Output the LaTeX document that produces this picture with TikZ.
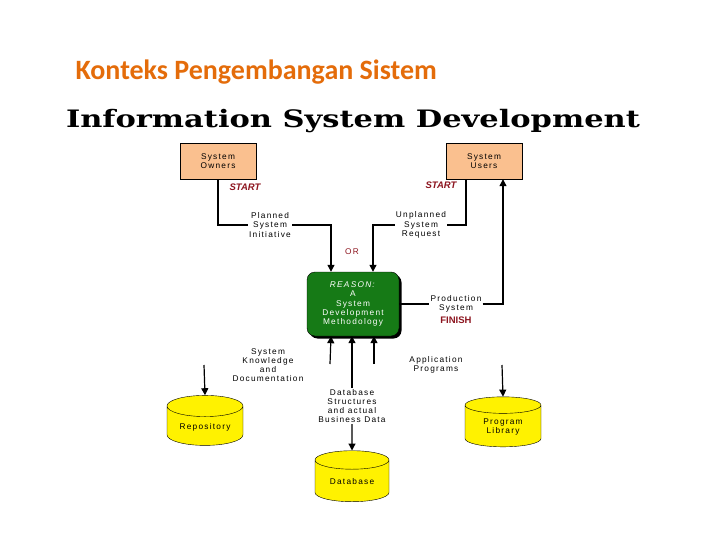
\documentclass[tikz,border=0pt]{standalone}
\usepackage{fontspec}
\usepackage{graphicx}
\setmainfont{Liberation Sans}
\newfontfamily\diafont[LetterSpace=15]{Liberation Sans}
\newfontfamily\titlefont{Carlito}
\newfontfamily\headfont{DejaVu Serif}
\usetikzlibrary{arrows.meta,shapes.geometric,shadows,positioning}

\definecolor{boxorange}{RGB}{250,192,143}
\definecolor{titleorange}{RGB}{228,108,10}
\definecolor{reasongreen}{RGB}{22,122,22}
\definecolor{startred}{RGB}{140,20,30}

\tikzset{
    small/.style = {font = {\diafont\fontsize{8.3}{9.2}\selectfont}, align = center, inner sep = 1pt},
    actor/.style = {small, draw, fill = boxorange, minimum width = 76pt, minimum height = 36pt},
    store/.style = {small, cylinder, shape border rotate = 90, aspect = 0.4, draw, fill = yellow,
                    minimum width = 76pt, minimum height = 50pt},
    mark red/.style = {font = {\fontsize{9.5}{10}\selectfont\bfseries\itshape}, text = startred},
    flow/.style = {line width = 1.2pt, -{Triangle[width = 7pt, length = 7pt]}},
}

\begin{document}
\begin{tikzpicture}[x=1pt, y=-1pt]
    \useasboundingbox (0,0) rectangle (720,540);

    \node[font = {\titlefont\bfseries\fontsize{28}{30}\selectfont}, text = titleorange, anchor = west] (title) at (72,72) {Konteks Pengembangan Sistem};
    \node[font = {\headfont\bfseries\fontsize{24}{28}\selectfont}] (heading) at (353,121) {\scalebox{1.27}[1]{Information System Development}};

    \node[actor] (owners) at (218,161) {System\\Owners};
    \node[actor] (users) at (484,161) {System\\Users};
    \node[mark red] (start1) at (245,187) {START};
    \node[mark red] (start2) at (441,185) {START};

    \node[small] (planned) at (270,225) {Planned\\System\\Initiative};
    \node[small] (unplanned) at (421,225) {Unplanned\\System\\Request};
    \node[small, text = startred] (or) at (352,252) {OR};

    \node[small, draw = black, fill = reasongreen, text = white, rounded corners = 8pt,
          minimum width = 92pt, minimum height = 64pt,
          drop shadow = {shadow xshift = 2.5pt, shadow yshift = -2.5pt, fill = black, opacity = 1}]
          (reason) at (353,304) {\textit{REASON:}\\A\\System\\Development\\Methodology};

    \node[small] (production) at (456,304) {Production\\System};
    \node[mark red, font = {\fontsize{9.5}{10}\selectfont\bfseries}] (finish) at (456,320) {FINISH};

    \node[small] (knowledge) at (268,365) {System\\Knowledge\\and\\Documentation};
    \node[small] (application) at (436,365) {Application\\Programs};
    \node[small, fill = white] (dbstruct) at (352,406) {Database\\Structures\\and actual\\Business Data};

    \node[store] (repo) at (205,427) {Repository};
    \node[store] (library) at (503,427) {Program\\Library};
    \node[store, minimum width = 74pt, minimum height = 51pt] (database) at (352,482) {Database};

    \coordinate (kn-end) at (330,364);
    \coordinate (app-end) at (374,364);
    \coordinate (repo-in) at (204,365);
    \coordinate (lib-in) at (502,365);

    \draw[flow] (owners.south) |- (planned) -| ([xshift = -22pt]reason.north);
    \draw[flow] ([xshift = -18pt]users.south) |- (unplanned) -| ([xshift = 20pt]reason.north);
    \draw[flow] (reason.east) -- (production) -| ([xshift = 19pt]users.south);

    \draw[flow] (kn-end) -- ([xshift = -22pt]reason.south);
    \draw[flow] (app-end) -- ([xshift = 21pt]reason.south);
    \draw[flow] (dbstruct) -- ([xshift = -1pt]reason.south);
    \draw[flow] (dbstruct) -- (database.north);

    \draw[flow] (repo-in) -- (repo.north);
    \draw[flow] (lib-in) -- (library.north);
\end{tikzpicture}
\end{document}
